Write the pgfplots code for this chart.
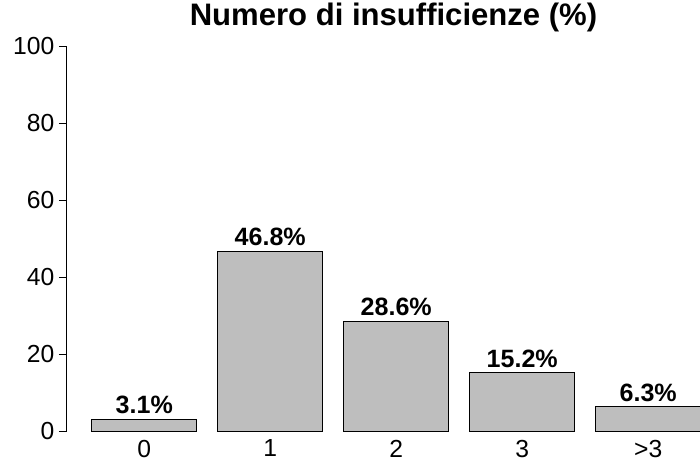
\documentclass[border=0pt]{standalone}
\usepackage{fontspec}
\setmainfont{Liberation Sans}
\usepackage{pgfplots}
\pgfplotsset{compat=1.18}
\definecolor{rgray}{HTML}{BEBEBE}
\begin{document}
\begin{tikzpicture}
\useasboundingbox (-50.25pt,-22.5pt) rectangle (474.75pt,323.25pt);
\begin{axis}[
  at={(0,0)}, anchor=south west,
  scale only axis, width=474.75pt, height=288.375pt,
  xmin=-0.613, xmax=4.411, ymin=0, ymax=100,
  axis y line*=left, axis x line*=bottom,
  x axis line style={draw=none},
  xtick={0,1,2,3,4}, xticklabels={0,1,2,3,>3},
  xtick style={draw=none},
  xticklabel style={yshift=1.5pt, inner sep=2pt},
  ytick={0,20,40,60,80,100},
  tick align=outside, major tick length=6pt,
  axis line style={line width=0.75pt, black},
  tick style={line width=0.75pt, black},
  ticklabel style={font=\fontsize{18.5}{22}\selectfont},
  /pgf/number format/assume math mode=true,
  ybar, bar width=78.75pt,
  nodes near coords={\pgfmathprintnumber[fixed,fixed zerofill,precision=1]{\pgfplotspointmeta}\%},
  nodes near coords style={font=\bfseries\fontsize{18.8}{22}\selectfont, anchor=south},
  title={Numero di insufficienze (\%)},
  title style={font=\bfseries\fontsize{23.3}{28}\selectfont, anchor=base, at={(axis description cs:0.5158,1.0351)}},
]
\addplot[fill=rgray, draw=black, line width=0.75pt] coordinates {(0,3.1) (1,46.8) (2,28.6) (3,15.2) (4,6.3)};
\end{axis}
\end{tikzpicture}
\end{document}
